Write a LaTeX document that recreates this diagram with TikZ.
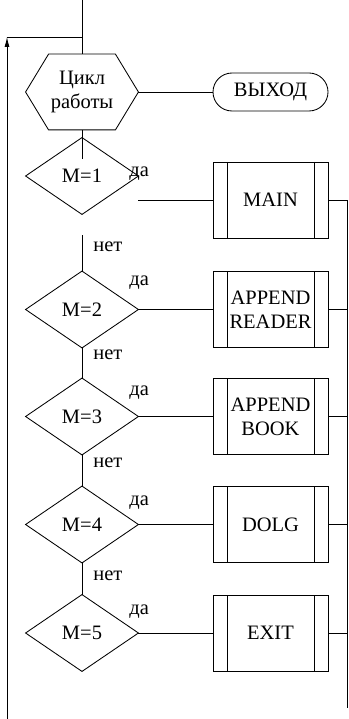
\documentclass[tikz,border=0pt]{standalone}
\usepackage{fontspec}
\setmainfont{Liberation Serif}
\usetikzlibrary{arrows.meta}
\begin{document}
\begin{tikzpicture}[x=1pt,y=-1pt, line width=0.85pt,
  every node/.style={font=\fontsize{20.5}{24}\selectfont, inner sep=0pt},
  hexbox/.style={minimum width=112pt, minimum height=75pt, align=center},
  decbox/.style={minimum width=112pt, minimum height=76pt},
  procbox/.style={draw, minimum width=115pt, minimum height=76pt, align=center,
    path picture={\draw ([xshift=14pt]path picture bounding box.north west) -- ([xshift=14pt]path picture bounding box.south west)
      ([xshift=-14pt]path picture bounding box.north east) -- ([xshift=-14pt]path picture bounding box.south east);}},
  termbox/.style={draw, rounded corners=19pt, minimum width=115pt, minimum height=38pt},
  lbl/.style={anchor=west}
]
\useasboundingbox (0,0) rectangle (348,719);

% shapes
\node[hexbox] (hex) at (82,92) {Цикл\\работы};
\draw (hex.west) -- ([xshift=23pt]hex.north west) -- ([xshift=-23pt]hex.north east) -- (hex.east)
  -- ([xshift=-23pt]hex.south east) -- ([xshift=23pt]hex.south west) -- cycle;
\node[termbox] (term) at (270.5,92) {ВЫХОД};

\node[decbox] (d1) at (82,176) {M=1};
\node[decbox] (d2) at (82,309.5) {M=2};
\node[decbox] (d3) at (82,416.5) {M=3};
\node[decbox] (d4) at (82,524.5) {M=4};
\node[decbox] (d5) at (82,633) {M=5};
\foreach \d in {d1,d2,d3,d4,d5}
  \draw (\d.north) -- (\d.east) -- (\d.south) -- (\d.west) -- cycle;

\node[procbox] (b1) at (270.5,200) {MAIN};
\node[procbox] (b2) at (270.5,309.5) {APPEND\\READER};
\node[procbox] (b3) at (270.5,416.5) {APPEND\\BOOK};
\node[procbox] (b4) at (270.5,524.5) {DOLG};
\node[procbox] (b5) at (270.5,633) {EXIT};

% labels
\node[lbl] (y1) at (129,174) {да};
\node[lbl] (y2) at (129,283) {да};
\node[lbl] (y3) at (129,393) {да};
\node[lbl] (y4) at (129,503) {да};
\node[lbl] (y5) at (129,612) {да};
\node[lbl] (n1) at (93,247) {нет};
\node[lbl] (n2) at (93,355) {нет};
\node[lbl] (n3) at (93,463) {нет};
\node[lbl] (n4) at (93,576) {нет};

% coordinates
\coordinate (top) at (82,0);
\coordinate (loopj) at (82,37);
\coordinate (loopc) at (7,37);
\coordinate (loopb) at (7,719);
\coordinate (c1) at (82,159);
\coordinate (c2) at (82,235);
\coordinate (r1) at (347,200);
\coordinate (rb) at (347,708);

% connectors
\draw (top) -- (hex.north);
\draw[-{Latex[length=10pt,width=5pt]}] (loopb) -- (loopc);
\draw (loopc) -- (loopj);
\draw (hex.east) -- (term.west);
\draw (hex.south) -- (c1);
\draw (d1.east |- b1.west) -- (b1.west);
\draw (c2) -- (d2.north);
\draw (d2.east) -- (b2.west);
\draw (d2.south) -- (d3.north);
\draw (d3.east) -- (b3.west);
\draw (d3.south) -- (d4.north);
\draw (d4.east) -- (b4.west);
\draw (d4.south) -- (d5.north);
\draw (d5.east) -- (b5.west);
\draw (b1.east) -- (r1) -- (rb);
\draw (b2.east) -- (b2.east -| r1);
\draw (b3.east) -- (b3.east -| r1);
\draw (b4.east) -- (b4.east -| r1);
\draw (b5.east) -- (b5.east -| r1);
\end{tikzpicture}
\end{document}
